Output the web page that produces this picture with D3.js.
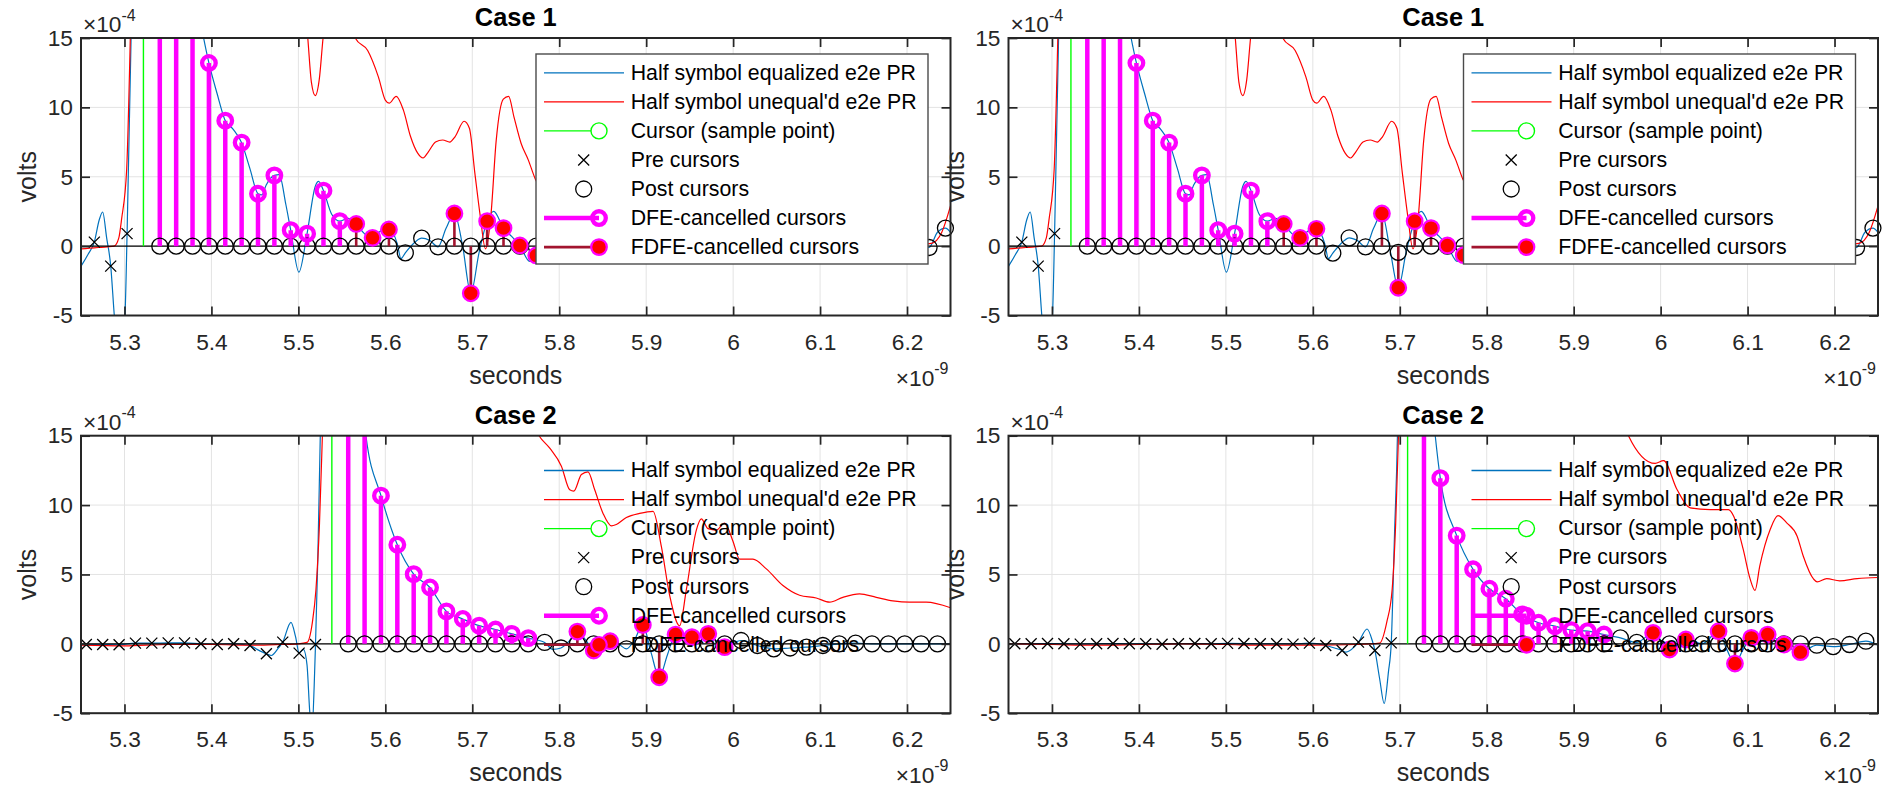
<!DOCTYPE html>
<html>
<head>
<meta charset="utf-8">
<script src="https://cdnjs.cloudflare.com/ajax/libs/d3/7.8.5/d3.min.js"></script>
<style>
  body { margin: 0; background: #fff; }
  svg { display: block; }
  text { font-family: "Liberation Sans", Arial, Helvetica, sans-serif; }
</style>
</head>
<body>
<svg id="chart"></svg>
<script>
// ---- data (time in ns, volts in 1e-4 V) ----
var UI = 0.018824; // symbol period, ns

var xTicks = [5.3, 5.4, 5.5, 5.6, 5.7, 5.8, 5.9, 6.0, 6.1, 6.2];
var yTicks = [-5, 0, 5, 10, 15];
var titles = ["Case 1", "Case 1", "Case 2", "Case 2"];
var legendLabels = [
  "Half symbol equalized e2e PR",
  "Half symbol unequal'd e2e PR",
  "Cursor (sample point)",
  "Pre cursors",
  "Post cursors",
  "DFE-cancelled cursors",
  "FDFE-cancelled cursors"
];

// Case 1 : cursor time and main cursor value
var case1T0 = 5.3218, case1Main = 62;
var case1Pre = [0.29, -1.44, 0.9]; // k = -3..-1
var case1Dfe = [42, 28, 19.5, 13.2, 9.04, 7.46, 3.78, 5.1, 1.15, 0.9, 4.0, 1.8]; // k = 1..12
var case1aFdfe = [[13, 1.6], [14, 0.6], [15, 1.2], [19, 2.35], [20, -3.4], [21, 1.8], [22, 1.3], [23, 0.05], [24, -0.67]];
var case1bFdfe = [[13, 1.6], [14, 0.6], [15, 1.25], [19, 2.35], [20, -3.0], [21, 1.8], [22, 1.3], [23, 0.05], [24, -0.65]];
// residual post cursors k = 1..49
var case1aPost = [0, 0, 0, 0, 0, 0, 0, 0, 0, 0, 0, 0, 0, 0, 0, -0.48, 0.57, -0.05, 0, 0, 0, 0, 0, 0,
  0.3, 0.5, 0.2, -0.1, -0.2, 0.1, 0.2, 0, -0.1, -0.1, 0.1, 0.1, 0, -0.1, 0, 0.1, 0, -0.1, 0, 0, 0.1, 0, -0.1, -0.1, 1.3];
var case1bPost = [0, 0, 0, 0, 0, 0, 0, 0, 0, 0, 0, 0, 0, 0, 0, -0.5, 0.6, -0.05, 0, -0.45, 0, 0, 0, 0,
  0.3, 0.5, 0.2, -0.1, -0.2, 0.1, 0.2, 0, -0.1, -0.1, 0.1, 0.1, 0, -0.1, 0, 0.1, 0, -0.1, 0, 0, 0.1, 0, -0.1, -0.1, 1.3];

var case1aEq = [[5.25, -1.45], [5.2513, -1.32], [5.258, -0.6], [5.2653, 0.29], [5.271, 1.9], [5.2749, 2.46],
  [5.2795, 0.6], [5.2842, -1.44], [5.2883, -5], [5.2945, -9], [5.3006, -5], [5.303, 0.9], [5.3076, 15],
  [5.315, 50], [5.3218, 62], [5.33, 55], [5.3406, 42], [5.3594, 28], [5.3783, 19.5], [5.391, 15],
  [5.3971, 13.2], [5.4065, 11.0], [5.4159, 9.04], [5.4253, 8.4], [5.4347, 7.46], [5.4442, 5.6],
  [5.4536, 3.78], [5.458, 3.7], [5.463, 4.4], [5.4724, 5.1], [5.478, 5.15], [5.4856, 3.0], [5.4912, 1.15],
  [5.5006, -1.87], [5.51, 0.9], [5.5194, 4.3], [5.5232, 4.66], [5.5289, 4.0], [5.5383, 2.3], [5.5477, 1.8],
  [5.5571, 2.0], [5.5665, 1.6], [5.5759, 0.9], [5.5854, 0.6], [5.5948, 1.1], [5.6042, 1.2], [5.6136, 0.2],
  [5.618, -0.9], [5.623, -0.48], [5.6343, 0.3], [5.6418, 0.57], [5.6512, 0.4], [5.6606, -0.05], [5.67, 1.3],
  [5.6795, 2.35], [5.6889, 0.0], [5.6983, -3.4], [5.7077, -0.5], [5.7171, 1.8], [5.7246, 2.5], [5.7359, 1.3],
  [5.7453, 0.7], [5.7547, 0.05], [5.766, -1.1], [5.7736, -0.67], [5.7924, 0.3], [5.8113, 0.5], [5.85, 0.0],
  [5.9, 0.1], [5.95, -0.1], [6.0, 0.1], [6.05, 0.0], [6.1, 0.0], [6.15, 0.05], [6.2, -0.05], [6.2254, -0.1],
  [6.235, 1.0], [6.2442, 1.3], [6.25, 1.0]];
var case1bEq = [[5.25, -1.45], [5.2513, -1.32], [5.258, -0.6], [5.2653, 0.29], [5.271, 1.9], [5.2749, 2.46],
  [5.2795, 0.6], [5.2842, -1.44], [5.2883, -5], [5.2945, -9], [5.3006, -5], [5.303, 0.9], [5.3076, 15],
  [5.315, 50], [5.3218, 62], [5.33, 55], [5.3406, 42], [5.3594, 28], [5.3783, 19.5], [5.391, 15],
  [5.3971, 13.2], [5.4065, 11.0], [5.4159, 9.04], [5.4253, 8.4], [5.4347, 7.46], [5.4442, 5.6],
  [5.4536, 3.78], [5.458, 3.7], [5.463, 4.4], [5.4724, 5.1], [5.478, 5.15], [5.4856, 3.0], [5.4912, 1.15],
  [5.5006, -1.87], [5.51, 0.9], [5.5194, 4.3], [5.5232, 4.66], [5.5289, 4.0], [5.5383, 2.3], [5.5477, 1.8],
  [5.5571, 2.0], [5.5665, 1.6], [5.5759, 0.9], [5.5854, 0.6], [5.5948, 1.1], [5.6042, 1.25], [5.6136, 0.2],
  [5.618, -0.9], [5.623, -0.5], [5.6343, 0.3], [5.6418, 0.6], [5.6512, 0.4], [5.6606, -0.05], [5.67, 1.3],
  [5.6795, 2.35], [5.6889, -0.3], [5.6983, -3.0], [5.7077, -0.3], [5.7171, 1.8], [5.7246, 2.5], [5.7359, 1.3],
  [5.7453, 0.7], [5.7547, 0.05], [5.766, -1.1], [5.7736, -0.65], [5.7924, 0.3], [5.8113, 0.5], [5.85, 0.0],
  [5.9, 0.1], [5.95, -0.1], [6.0, 0.1], [6.05, 0.0], [6.1, 0.0], [6.15, 0.05], [6.2, -0.05], [6.2254, -0.1],
  [6.235, 1.0], [6.2442, 1.3], [6.25, 1.0]];
var case1Uneq = [[5.25, -0.2], [5.26, -0.15], [5.27, -0.1], [5.28, -0.05], [5.288, 0.0], [5.2935, 0.6],
  [5.2968, 2.0], [5.3025, 5.5], [5.3067, 15], [5.315, 45], [5.33, 75], [5.36, 85], [5.4, 70], [5.45, 45],
  [5.49, 25], [5.5108, 15], [5.515, 11.8], [5.5194, 10.85], [5.524, 12], [5.5284, 15], [5.545, 20],
  [5.5654, 15], [5.5797, 14.1], [5.592, 12.2], [5.6002, 10.5], [5.6044, 10.3], [5.6125, 10.8], [5.6208, 9.8],
  [5.629, 7.9], [5.6372, 6.7], [5.6434, 6.35], [5.6495, 6.8], [5.6577, 7.5], [5.666, 7.65], [5.6741, 7.5],
  [5.6803, 7.9], [5.6906, 9.0], [5.6967, 8.5], [5.7029, 5.3], [5.7091, 2.2], [5.7152, -0.2], [5.7214, 2.2],
  [5.7275, 7.6], [5.7357, 10.6], [5.7418, 10.8], [5.748, 9.3], [5.7562, 7.4], [5.7645, 6.2], [5.7727, 4.8],
  [5.79, 3.5], [5.83, 2.5], [5.88, 1.8], [5.93, 1.4], [5.98, 1.0], [6.03, 0.8], [6.08, 0.6], [6.13, 0.4],
  [6.18, 0.3], [6.21, 0.1], [6.228, 0.2], [6.24, 1.0], [6.25, 2.9]];

// Case 2, left panel
var case2aT0 = 5.5385, case2aMain = 58;
var case2aPre = [-0.05, -0.05, -0.07, 0.05, 0.05, 0.07, 0.07, 0.0, -0.05, 0.0, -0.12, -0.72, 0.12, -0.67, -0.05]; // k = -15..-1
var case2aDfe = [35, 17, 10.68, 7.14, 5.02, 4.06, 2.34, 1.79, 1.31, 1.03, 0.72, 0.41];
var case2aFdfe = [[15, 0.88], [16, -0.48], [17, 0.19], [19, 1.36], [20, -2.41], [21, 0.67], [22, 0.48], [23, 0.72], [24, -0.24]];
var case2aPost = [0, 0, 0, 0, 0, 0, 0, 0, 0, 0, 0, 0, 0.1, -0.3, 0, 0, 0, -0.36, 0, 0, 0, 0, 0, 0,
  0.24, -0.12, -0.36, -0.3, -0.24, -0.12, 0, 0.05, 0, 0, 0, 0, 0]; // k = 1..37
var case2aEq = [[5.25, -0.05], [5.2561, -0.05], [5.275, -0.05], [5.2938, -0.07], [5.3126, 0.05], [5.3314, 0.05],
  [5.3503, 0.07], [5.3691, 0.07], [5.3879, 0.0], [5.4067, -0.05], [5.4256, 0.0], [5.4444, -0.12], [5.4525, -0.4],
  [5.4632, -0.72], [5.4689, -0.84], [5.4771, -0.3], [5.482, 0.12], [5.4915, 1.55], [5.4968, 0.5], [5.5009, -0.67],
  [5.5058, -0.4], [5.5099, -1.5], [5.5132, -5], [5.5157, -6.2], [5.5182, -3], [5.5197, -0.05], [5.5223, 6],
  [5.5252, 15], [5.532, 45], [5.5385, 58], [5.548, 48], [5.5573, 35], [5.5761, 17], [5.5777, 15], [5.595, 10.68],
  [5.6138, 7.14], [5.6326, 5.02], [5.6514, 4.06], [5.6703, 2.34], [5.6891, 1.79], [5.7079, 1.31], [5.7267, 1.03],
  [5.7456, 0.72], [5.7644, 0.41], [5.7832, 0.1], [5.7926, -0.4], [5.802, -0.3], [5.8114, 0.2], [5.8208, 0.88],
  [5.8302, 0.3], [5.8397, -0.48], [5.8491, -0.2], [5.8585, 0.19], [5.8679, 0.0], [5.8773, -0.36], [5.8867, 0.3],
  [5.8961, 1.36], [5.9055, -0.6], [5.915, -2.41], [5.9244, -0.8], [5.9338, 0.67], [5.9432, 0.5], [5.9526, 0.48],
  [5.962, 0.6], [5.9714, 0.72], [5.9808, 0.2], [5.9903, -0.24], [6.0091, 0.24], [6.0279, -0.12], [6.0467, -0.36],
  [6.0656, -0.3], [6.0844, -0.24], [6.1032, -0.12], [6.122, 0.0], [6.1409, 0.05], [6.1597, 0.0], [6.1785, 0.0],
  [6.1973, 0.0], [6.2162, 0.0], [6.235, 0.0], [6.25, 0.0]];
var case2aUneq = [[5.25, -0.1], [5.3, -0.15], [5.35, -0.05], [5.4, -0.05], [5.45, -0.1], [5.48, -0.05], [5.5, 0.0],
  [5.5099, 0.1], [5.5161, 1.55], [5.5202, 3.9], [5.5243, 8.7], [5.5276, 15], [5.54, 45], [5.57, 70], [5.62, 65],
  [5.68, 45], [5.73, 25], [5.7768, 15], [5.7891, 14.1], [5.8025, 12.8], [5.8121, 11.1], [5.8167, 11.0],
  [5.8255, 12.2], [5.8331, 12.4], [5.8408, 11.1], [5.8504, 9.4], [5.86, 8.5], [5.8657, 8.6], [5.8772, 9.1],
  [5.8925, 9.4], [5.9079, 9.55], [5.9175, 7.0], [5.927, 3.5], [5.9385, 1.3], [5.9462, 3.9], [5.9577, 8.2],
  [5.9634, 9.0], [5.9711, 8.3], [5.9807, 8.2], [5.9902, 8.7], [5.9998, 7.4], [6.0075, 6.1], [6.0228, 6.1],
  [6.0382, 5.4], [6.0573, 4.2], [6.0764, 3.5], [6.0956, 3.3], [6.1109, 3.0], [6.1262, 3.35], [6.1454, 3.6],
  [6.1646, 3.35], [6.1837, 3.1], [6.2029, 3.0], [6.2221, 3.0], [6.25, 2.6]];

// Case 2, right panel
var case2bT0 = 5.709, case2bMain = 60;
var case2bPre = [0.0, 0.0, 0.02, 0.0, -0.02, 0.0, 0.02, 0.0, 0.0, -0.03, 0.0, 0.02, 0.0, 0.03, 0.02, 0.0, 0.0,
  -0.02, 0.05, -0.12, -0.48, 0.12, -0.48, 0.07]; // k = -24..-1
var case2bDfe = [25, 11.94, 7.8, 5.37, 3.97, 3.25, 2.12, 1.52, 1.28, 0.99, 0.91, 0.67];
var case2bFdfe = [[15, 0.79], [16, -0.41], [17, 0.31], [19, 0.91], [20, -1.42], [21, 0.43], [22, 0.67], [23, -0.05], [24, -0.6]];
var case2bPost = [0, 0, 0, 0, 0, 0, 0, 0, 0, 0, 0, 0, 0.43, 0.1, 0, 0, 0, 0, 0, 0, 0, 0, 0, 0,
  -0.1, -0.2, -0.05, 0.19]; // k = 1..28
var case2bEq = [[5.25, 0.0], [5.2572, 0.0], [5.276, 0.0], [5.2949, 0.02], [5.3137, 0.0], [5.3325, -0.02],
  [5.3513, 0.0], [5.3702, 0.02], [5.389, 0.0], [5.4078, 0.0], [5.4266, -0.03], [5.4455, 0.0], [5.4643, 0.02],
  [5.4831, 0.0], [5.5019, 0.03], [5.5208, 0.02], [5.5396, 0.0], [5.5584, 0.0], [5.5772, -0.02], [5.5961, 0.05],
  [5.6149, -0.12], [5.625, -0.3], [5.6337, -0.48], [5.638, -0.6], [5.648, -0.2], [5.6525, 0.12], [5.6624, 1.07],
  [5.6685, 0.2], [5.6714, -0.48], [5.6768, -2.5], [5.6821, -4.3], [5.687, -2.0], [5.6902, 0.07], [5.694, 8],
  [5.6973, 15], [5.702, 40], [5.709, 60], [5.718, 45], [5.7278, 25], [5.7408, 15], [5.7466, 11.94],
  [5.7655, 7.8], [5.7843, 5.37], [5.8031, 3.97], [5.8219, 3.25], [5.8408, 2.12], [5.8596, 1.52], [5.8784, 1.28],
  [5.8972, 0.99], [5.9161, 0.91], [5.9349, 0.67], [5.9537, 0.43], [5.9725, 0.1], [5.9914, 0.79], [6.0102, -0.41],
  [6.029, 0.31], [6.0478, 0.0], [6.0667, 0.91], [6.0761, -0.4], [6.0855, -1.42], [6.0949, -0.4], [6.1043, 0.43],
  [6.1231, 0.67], [6.142, -0.05], [6.1608, -0.6], [6.1796, -0.1], [6.1984, -0.2], [6.2173, -0.05], [6.2361, 0.19],
  [6.25, -0.1]];
var case2bUneq = [[5.25, 0.0], [5.3, -0.05], [5.35, -0.1], [5.4, -0.05], [5.45, 0.0], [5.5, -0.05], [5.55, -0.1],
  [5.6, -0.1], [5.65, -0.05], [5.6768, 0.05], [5.685, 1.55], [5.6912, 3.9], [5.6953, 8.7], [5.6985, 15],
  [5.71, 45], [5.75, 70], [5.82, 65], [5.9, 40], [5.94, 22], [5.963, 15], [5.9937, 13.0], [6.0034, 13.2],
  [6.019, 11.1], [6.034, 9.8], [6.057, 9.67], [6.078, 9.67], [6.084, 9.2], [6.095, 6.8], [6.103, 4.66],
  [6.1086, 3.85], [6.114, 5.6], [6.126, 8.24], [6.135, 9.24], [6.145, 8.72], [6.157, 7.76], [6.164, 6.33],
  [6.176, 4.66], [6.18, 4.47], [6.191, 4.7], [6.206, 4.54], [6.226, 4.7], [6.25, 4.78]];

// ---- layout ----
var svgWidth = 1886, svgHeight = 790;
var W = 869.5, H = 277.5;
var BLUE = "#0072BD", RED = "#FF0000", GREEN = "#00FF00", MAGENTA = "#FF00FF", DARKRED = "#A2142F", AXIS = "#262626";

var panels = [
  { id: "p1", left: 81, top: 38, title: titles[0], boxed: true, eq: case1aEq, uneq: case1Uneq,
    t0: case1T0, main: case1Main, pre: case1Pre, dfe: case1Dfe, fdfe: case1aFdfe, post: case1aPost },
  { id: "p2", left: 1008.5, top: 38, title: titles[1], boxed: true, eq: case1bEq, uneq: case1Uneq,
    t0: case1T0, main: case1Main, pre: case1Pre, dfe: case1Dfe, fdfe: case1bFdfe, post: case1bPost },
  { id: "p3", left: 81, top: 435.7, title: titles[2], boxed: false, eq: case2aEq, uneq: case2aUneq,
    t0: case2aT0, main: case2aMain, pre: case2aPre, dfe: case2aDfe, fdfe: case2aFdfe, post: case2aPost },
  { id: "p4", left: 1008.5, top: 435.7, title: titles[3], boxed: false, eq: case2bEq, uneq: case2bUneq,
    t0: case2bT0, main: case2bMain, pre: case2bPre, dfe: case2bDfe, fdfe: case2bFdfe, post: case2bPost }
];

var svg = d3.select("#chart").attr("width", svgWidth).attr("height", svgHeight);
svg.append("rect").attr("width", svgWidth).attr("height", svgHeight).attr("fill", "#fff");

var fmt = function (d) { return String(Math.round(d * 10) / 10); };

function drawPanel(p) {
  var x = d3.scaleLinear().domain([5.25, 6.25]).range([0, W]);
  var y = d3.scaleLinear().domain([-5, 15]).range([H, 0]);
  var tk = function (k) { return p.t0 + k * UI; };
  var inside = function (t, v) { return t >= 5.25 && t <= 6.25 && v >= -5 && v <= 15; };

  var g = svg.append("g").attr("transform", "translate(" + p.left + "," + p.top + ")");
  g.append("clipPath").attr("id", "clip-" + p.id)
    .append("rect").attr("width", W).attr("height", H);

  // grid
  var grid = g.append("g").attr("stroke", "#e3e3e3").attr("stroke-width", 1);
  grid.selectAll(".gx").data(xTicks).join("line")
    .attr("x1", function (d) { return x(d); }).attr("x2", function (d) { return x(d); })
    .attr("y1", 0).attr("y2", H);
  grid.selectAll(".gy").data(yTicks).join("line")
    .attr("x1", 0).attr("x2", W)
    .attr("y1", function (d) { return y(d); }).attr("y2", function (d) { return y(d); });

  var plot = g.append("g").attr("clip-path", "url(#clip-" + p.id + ")");

  var line = d3.line()
    .x(function (d) { return x(d[0]); })
    .y(function (d) { return y(d[1]); })
    .curve(d3.curveMonotoneX);

  plot.append("path").datum(p.eq).attr("d", line)
    .attr("fill", "none").attr("stroke", BLUE).attr("stroke-width", 1.2);
  plot.append("path").datum(p.uneq).attr("d", line)
    .attr("fill", "none").attr("stroke", RED).attr("stroke-width", 1.2);

  // stem baseline
  plot.append("line").attr("x1", 0).attr("x2", W).attr("y1", y(0)).attr("y2", y(0))
    .attr("stroke", "#000").attr("stroke-width", 1.2);

  // main cursor
  plot.append("line").attr("x1", x(p.t0)).attr("x2", x(p.t0)).attr("y1", y(0)).attr("y2", y(p.main))
    .attr("stroke", GREEN).attr("stroke-width", 1.4);

  // pre cursors
  var preData = p.pre.map(function (v, i) { return [tk(i - p.pre.length), v]; })
    .filter(function (d) { return inside(d[0], d[1]); });
  var s = 5.5;
  g.append("g").selectAll("path").data(preData).join("path")
    .attr("d", function (d) {
      var cx = x(d[0]), cy = y(d[1]);
      return "M" + (cx - s) + "," + (cy - s) + "L" + (cx + s) + "," + (cy + s) +
        "M" + (cx - s) + "," + (cy + s) + "L" + (cx + s) + "," + (cy - s);
    })
    .attr("stroke", "#000").attr("stroke-width", 1.3).attr("fill", "none");

  // post cursors (residual)
  var postData = p.post.map(function (v, i) { return [tk(i + 1), v]; })
    .filter(function (d) { return inside(d[0], d[1]); });
  g.append("g").selectAll("circle").data(postData).join("circle")
    .attr("cx", function (d) { return x(d[0]); }).attr("cy", function (d) { return y(d[1]); })
    .attr("r", 8).attr("fill", "none").attr("stroke", "#000").attr("stroke-width", 1.3);

  // DFE-cancelled cursors
  var dfeData = p.dfe.map(function (v, i) { return [tk(i + 1), v]; });
  plot.append("g").selectAll("line").data(dfeData).join("line")
    .attr("x1", function (d) { return x(d[0]); }).attr("x2", function (d) { return x(d[0]); })
    .attr("y1", y(0)).attr("y2", function (d) { return y(d[1]); })
    .attr("stroke", MAGENTA).attr("stroke-width", 4.5);
  g.append("g").selectAll("circle").data(dfeData.filter(function (d) { return inside(d[0], d[1]); })).join("circle")
    .attr("cx", function (d) { return x(d[0]); }).attr("cy", function (d) { return y(d[1]); })
    .attr("r", 6.8).attr("fill", "none").attr("stroke", MAGENTA).attr("stroke-width", 4.3);

  // FDFE-cancelled cursors
  var fdfeData = p.fdfe.map(function (d) { return [tk(d[0]), d[1]]; })
    .filter(function (d) { return inside(d[0], d[1]); });
  g.append("g").selectAll("circle").data(fdfeData).join("circle")
    .attr("cx", function (d) { return x(d[0]); }).attr("cy", function (d) { return y(d[1]); })
    .attr("r", 7.8).attr("fill", RED).attr("stroke", MAGENTA).attr("stroke-width", 2.2);
  plot.append("g").selectAll("line").data(fdfeData).join("line")
    .attr("x1", function (d) { return x(d[0]); }).attr("x2", function (d) { return x(d[0]); })
    .attr("y1", y(0)).attr("y2", function (d) { return y(d[1]); })
    .attr("stroke", DARKRED).attr("stroke-width", 2.6);

  // axes
  function styleAxis(sel) {
    sel.select(".domain").remove();
    sel.selectAll(".tick line").attr("stroke", AXIS).attr("stroke-width", 1.7);
    sel.selectAll(".tick text").attr("fill", AXIS).attr("font-size", "22.7px")
      .attr("font-family", '"Liberation Sans", Arial, sans-serif');
  }
  g.append("g").attr("transform", "translate(0," + H + ")")
    .call(d3.axisBottom(x).tickValues(xTicks).tickSizeInner(-9).tickSizeOuter(0).tickPadding(18).tickFormat(fmt))
    .call(styleAxis);
  g.append("g")
    .call(d3.axisTop(x).tickValues(xTicks).tickSizeInner(-9).tickSizeOuter(0).tickFormat(""))
    .call(styleAxis);
  g.append("g")
    .call(d3.axisLeft(y).tickValues(yTicks).tickSizeInner(-9).tickSizeOuter(0).tickPadding(8).tickFormat(fmt))
    .call(styleAxis);
  g.append("g").attr("transform", "translate(" + W + ",0)")
    .call(d3.axisRight(y).tickValues(yTicks).tickSizeInner(-9).tickSizeOuter(0).tickFormat(""))
    .call(styleAxis);

  g.append("rect").attr("width", W).attr("height", H)
    .attr("fill", "none").attr("stroke", AXIS).attr("stroke-width", 2);

  // labels
  g.append("text").attr("x", W / 2).attr("y", -12).attr("text-anchor", "middle")
    .attr("font-size", "25.4px").attr("font-weight", "bold").attr("fill", "#000").text(p.title);
  g.append("text").attr("transform", "translate(-45," + (H / 2) + ") rotate(-90)")
    .attr("text-anchor", "middle").attr("font-size", "25px").attr("fill", AXIS).text("volts");
  g.append("text").attr("x", W / 2).attr("y", H + 68).attr("text-anchor", "middle")
    .attr("font-size", "25px").attr("fill", AXIS).text("seconds");

  var ey = g.append("text").attr("x", 2).attr("y", -6).attr("font-size", "22.7px").attr("fill", AXIS);
  ey.append("tspan").text("\u00d710");
  ey.append("tspan").attr("dy", -11.5).attr("font-size", "16px").text("-4");

  var ex = g.append("text").attr("x", W - 2).attr("y", H + 70).attr("text-anchor", "end")
    .attr("font-size", "22.7px").attr("fill", AXIS);
  ex.append("tspan").text("\u00d710");
  ex.append("tspan").attr("dy", -12).attr("font-size", "16px").text("-9");

  drawLegend(g, p.boxed);
}

function drawLegend(g, boxed) {
  var lg = g.append("g").attr("transform", "translate(455,16)");
  if (boxed) {
    lg.append("rect").attr("width", 392).attr("height", 210)
      .attr("fill", "#fff").attr("stroke", "#4a4a4a").attr("stroke-width", 1.4);
  }
  var rowY = function (i) { return 18.8 + i * 29.05; };
  var x0 = 8, x1 = 88, xm = 63, xc = 47.7;

  lg.append("line").attr("x1", x0).attr("x2", x1).attr("y1", rowY(0)).attr("y2", rowY(0))
    .attr("stroke", BLUE).attr("stroke-width", 1.3);
  lg.append("line").attr("x1", x0).attr("x2", x1).attr("y1", rowY(1)).attr("y2", rowY(1))
    .attr("stroke", RED).attr("stroke-width", 1.3);
  lg.append("line").attr("x1", x0).attr("x2", xm - 8).attr("y1", rowY(2)).attr("y2", rowY(2))
    .attr("stroke", GREEN).attr("stroke-width", 1.4);
  lg.append("circle").attr("cx", xm).attr("cy", rowY(2)).attr("r", 8)
    .attr("fill", "none").attr("stroke", GREEN).attr("stroke-width", 1.4);
  var s = 5.5, cy = rowY(3);
  lg.append("path")
    .attr("d", "M" + (xc - s) + "," + (cy - s) + "L" + (xc + s) + "," + (cy + s) +
      "M" + (xc - s) + "," + (cy + s) + "L" + (xc + s) + "," + (cy - s))
    .attr("stroke", "#000").attr("stroke-width", 1.3);
  lg.append("circle").attr("cx", xc).attr("cy", rowY(4)).attr("r", 8)
    .attr("fill", "none").attr("stroke", "#000").attr("stroke-width", 1.3);
  lg.append("line").attr("x1", x0).attr("x2", xm).attr("y1", rowY(5)).attr("y2", rowY(5))
    .attr("stroke", MAGENTA).attr("stroke-width", 4.5);
  lg.append("circle").attr("cx", xm).attr("cy", rowY(5)).attr("r", 6.8)
    .attr("fill", "none").attr("stroke", MAGENTA).attr("stroke-width", 4.3);
  lg.append("line").attr("x1", x0).attr("x2", xm).attr("y1", rowY(6)).attr("y2", rowY(6))
    .attr("stroke", DARKRED).attr("stroke-width", 2.6);
  lg.append("circle").attr("cx", xm).attr("cy", rowY(6)).attr("r", 7.8)
    .attr("fill", RED).attr("stroke", MAGENTA).attr("stroke-width", 2.2);

  lg.selectAll("text.lab").data(legendLabels).join("text")
    .attr("class", "lab")
    .attr("x", 94.7).attr("y", function (d, i) { return rowY(i); }).attr("dy", "0.32em")
    .attr("font-size", "21.3px").attr("fill", "#000").text(function (d) { return d; });
}

panels.forEach(drawPanel);
</script>
</body>
</html>
